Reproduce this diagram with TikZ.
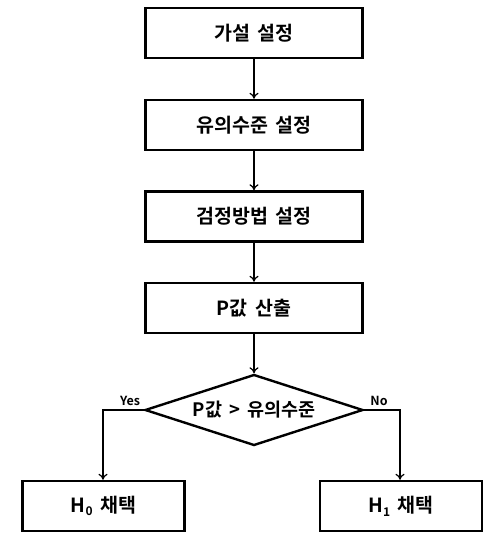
\documentclass[tikz,border=0pt]{standalone}
\usepackage{fontspec}
\newfontfamily\kr{Noto Sans CJK KR}[BoldFont={* Bold},WordSpace=1.7]
\usetikzlibrary{shapes.geometric,arrows.meta}
\newcommand{\sbs}[1]{\raisebox{-0.35ex}{\fontsize{12}{12}\selectfont #1}}
\begin{document}
\begin{tikzpicture}[x=1pt,y=-1pt,
  box/.style={draw,line width=2.4pt,minimum width=217pt,minimum height=50pt,inner sep=0pt,font=\kr\bfseries\fontsize{19.5}{22}\selectfont},
  smallbox/.style={box,minimum width=162pt},
  dia/.style={draw,line width=2.4pt,diamond,aspect=3.1,minimum width=218pt,minimum height=71pt,inner sep=0pt,font=\kr\bfseries\fontsize{18.5}{20}\selectfont},
  conn/.style={line width=1.2pt,-{To[length=6pt,width=9pt]}},
  lab/.style={font=\kr\bfseries\fontsize{12.5}{14}\selectfont,inner sep=1pt}]
\useasboundingbox (0,0) rectangle (497,543);
\node[box] (b1) at (254,33) {가설 설정};
\node[box] (b2) at (254,125) {유의수준 설정};
\node[box] (b3) at (254,216.5) {검정방법 설정};
\node[box] (b4) at (254,308) {P값 산출};
\node[dia] (d) at (254,410) {P값 > 유의수준};
\node[smallbox] (h0) at (103.5,506) {H\sbs{0} 채택};
\node[smallbox] (h1) at (401,506) {H\sbs{1} 채택};
\coordinate (yl) at (103,410);
\coordinate (nl) at (400,410);
\draw[conn] (b1) -- (b2);
\draw[conn] (b2) -- (b3);
\draw[conn] (b3) -- (b4);
\draw[conn] (b4) -- (d);
\draw[conn] (d.west) -- (yl) -- (h0.north-|yl);
\draw[conn] (d.east) -- (nl) -- (h1.north-|nl);
\node[lab,anchor=south] (yes) at (130,407) {Yes};
\node[lab,anchor=south] (no) at (379,407) {No};
\end{tikzpicture}
\end{document}
